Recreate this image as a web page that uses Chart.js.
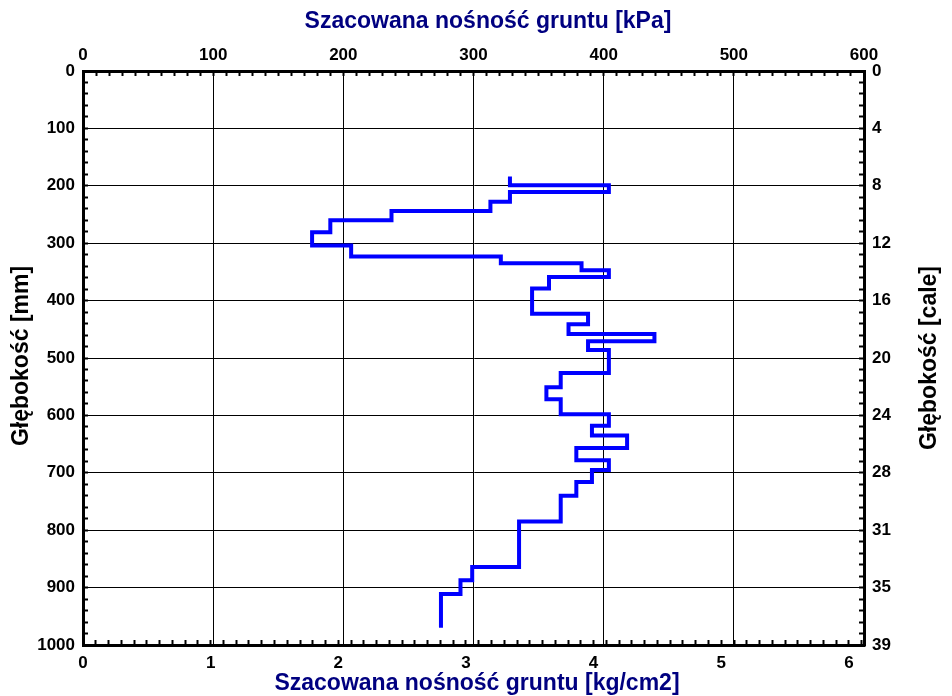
<!DOCTYPE html>
<html>
<head>
<meta charset="utf-8">
<script src="https://cdn.jsdelivr.net/npm/chart.js@4.4.0/dist/chart.umd.min.js"></script>
<style>
  html, body { margin: 0; padding: 0; background: #fff; }
  #wrap { width: 952px; height: 696px; }
</style>
</head>
<body>
<div id="wrap"><canvas id="wykres"></canvas></div>
<script>
// glebokosc poczatku kazdego stopnia [mm] i nosnosc na nim [kPa]
const glebokosc = [184, 199, 211, 228, 244, 260, 281, 304, 323, 335, 347, 359, 379, 423, 441, 458, 471,
                   486, 526, 551, 572, 598, 618, 635, 657, 678, 695, 716, 740, 785, 864, 887, 911, 970];
const nosnosc = [328, 404, 328, 313, 237, 190, 176, 206, 321, 383, 404, 358, 345, 388, 373, 439, 388,
                 404, 367, 356, 367, 404, 391, 418, 379, 404, 391, 379, 367, 335, 299, 290, 275, 275];

// etykiety osi
const etykietyKPa = [0, 100, 200, 300, 400, 500, 600];
const etykietyKg = [0, 1, 2, 3, 4, 5, 6];
const etykietyMm = [0, 100, 200, 300, 400, 500, 600, 700, 800, 900, 1000];
const etykietyCale = [0, 4, 8, 12, 16, 20, 24, 28, 31, 35, 39];

const KPA_NA_KG = 98.0665;
const CZCIONKA = '"Liberation Sans", Arial, sans-serif';

const punkty = glebokosc.map((g, i) => ({ x: nosnosc[i], y: g }));

const kolorSiatki = ctx => (ctx.tick && ctx.tick.value % 100 === 0) ? '#000' : 'rgba(0,0,0,0)';

function osBazowa(extra) {
  return Object.assign({
    type: 'linear',
    border: { display: true, color: '#000', width: 3 },
    grid: { drawOnChartArea: false, tickColor: '#000', tickWidth: 2, tickLength: -5 },
    ticks: {
      autoSkip: false,
      maxRotation: 0,
      color: '#000',
      font: { family: CZCIONKA, size: 17, weight: 'bold' }
    }
  }, extra);
}

const osX = osBazowa({ position: 'top', min: 0, max: 600,
  afterFit: s => { s.height = 71; } });
osX.grid = { color: kolorSiatki, lineWidth: 1, tickColor: '#000', tickWidth: 2, tickLength: -5 };
osX.ticks = Object.assign({}, osX.ticks, { stepSize: 10, padding: 10,
  callback: v => etykietyKPa.includes(v) ? String(v) : '' });

const osX2 = osBazowa({ position: 'bottom', min: 0, max: 600 / KPA_NA_KG,
  afterFit: s => { s.height = 51; } });
osX2.ticks = Object.assign({}, osX2.ticks, { stepSize: 0.1, includeBounds: false, padding: 13,
  callback: v => {
    const k = Math.round(v);
    return (Math.abs(v - k) < 1e-6 && etykietyKg.includes(k)) ? String(k) : '';
  } });

const osY = osBazowa({ position: 'left', min: 0, max: 1000, reverse: true,
  afterFit: s => { s.width = 83; } });
osY.grid = { color: kolorSiatki, lineWidth: 1, tickColor: '#000', tickWidth: 2, tickLength: -5 };
osY.ticks = Object.assign({}, osY.ticks, { stepSize: 20, padding: 13,
  callback: v => etykietyMm.includes(v) ? String(v) : '' });

const osY2 = osBazowa({ position: 'right', min: 0, max: 1000, reverse: true,
  afterFit: s => { s.width = 88; } });
osY2.ticks = Object.assign({}, osY2.ticks, { stepSize: 20, padding: 13,
  callback: v => {
    const i = etykietyMm.indexOf(v);
    return i >= 0 ? String(etykietyCale[i]) : '';
  } });

const tytulyOsi = {
  id: 'tytulyOsi',
  afterDraw(chart) {
    const ctx = chart.ctx;
    ctx.save();
    ctx.font = 'bold 23px ' + CZCIONKA;
    ctx.textAlign = 'center';
    ctx.textBaseline = 'middle';
    ctx.fillStyle = '#000080';
    ctx.fillText('Szacowana nośność gruntu [kPa]', 488, 22);
    ctx.fillText('Szacowana nośność gruntu [kg/cm2]', 477, 684);
    ctx.fillStyle = '#000';
    [[22, 356, 'Głębokość [mm]'], [930, 358, 'Głębokość [cale]']].forEach(([x, y, t]) => {
      ctx.save();
      ctx.translate(x, y);
      ctx.rotate(-Math.PI / 2);
      ctx.fillText(t, 0, 0);
      ctx.restore();
    });
    ctx.restore();
  }
};

new Chart(document.getElementById('wykres'), {
  type: 'line',
  data: {
    datasets: [{
      data: punkty,
      xAxisID: 'x',
      yAxisID: 'y',
      borderColor: '#0000ff',
      borderWidth: 4,
      pointRadius: 0,
      fill: false,
      stepped: 'after',
      borderJoinStyle: 'miter',
      borderCapStyle: 'butt'
    }]
  },
  options: {
    responsive: true,
    maintainAspectRatio: false,
    animation: false,
    layout: { padding: 0 },
    plugins: { legend: { display: false }, tooltip: { enabled: false } },
    scales: { x: osX, x2: osX2, y: osY, y2: osY2 }
  },
  plugins: [tytulyOsi]
});
</script>
</body>
</html>
